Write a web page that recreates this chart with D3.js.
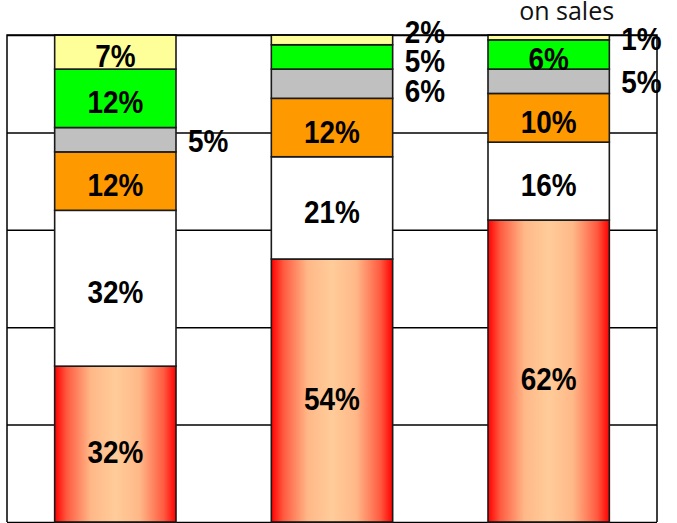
<!DOCTYPE html>
<html>
<head>
<meta charset="utf-8">
<script src="https://cdn.jsdelivr.net/npm/d3@7"></script>
<style>
  html, body { margin: 0; padding: 0; background: #fff; }
  svg { display: block; }
</style>
</head>
<body>
<svg id="chart" width="677" height="523"></svg>
<script>
// Share of each cost component, per column (percent of sales)
const categories = ["c1", "c2", "c3"];
const redShare    = [32, 54, 62];
const whiteShare  = [32, 21, 16];
const orangeShare = [12, 12, 10];
const grayShare   = [5, 6, 5];
const greenShare  = [12, 5, 6];
const yellowShare = [7, 2, 1];
const gridTicks   = [0, 20, 40, 60, 80, 100];
const headerText  = "on sales";

// Which segment labels sit beside the column instead of inside it
const besideBar = [["gray"], ["gray", "green", "yellow"], ["gray", "yellow"]];

const keys = ["red", "white", "orange", "gray", "green", "yellow"];
const series = { red: redShare, white: whiteShare, orange: orangeShare,
                 gray: grayShare, green: greenShare, yellow: yellowShare };
const fills = { red: "url(#redGrad)", white: "#ffffff", orange: "#ff9900",
                gray: "#c0c0c0", green: "#00ff00", yellow: "#ffff99" };

const rows = categories.map((c, i) => {
  const r = { cat: c };
  keys.forEach(k => r[k] = series[k][i]);
  return r;
});

const svg = d3.select("#chart");
const plot = { left: 7, right: 657, top: 35, bottom: 522 };

const x = d3.scaleBand().domain(categories)
  .range([plot.left, plot.right]).paddingInner(0.44).paddingOuter(0.22);
const y = d3.scaleLinear().domain([0, 100]).range([plot.bottom, plot.top]);

// Horizontal shading of the base segment: red edges, peach centre
const defs = svg.append("defs");
const grad = defs.append("linearGradient").attr("id", "redGrad")
  .attr("x1", 0).attr("x2", 1).attr("y1", 0).attr("y2", 0);
[[0, "#ff0000"], [0.1, "#ff5a40"], [0.3, "#ffb888"], [0.5, "#ffcc99"],
 [0.7, "#ffb888"], [0.9, "#ff5a40"], [1, "#ff0000"]]
  .forEach(([o, c]) => grad.append("stop").attr("offset", o).attr("stop-color", c));

// Gridlines
const grid = svg.append("g")
  .attr("transform", `translate(${plot.left},0)`)
  .call(d3.axisLeft(y).tickValues(gridTicks).tickSize(-(plot.right - plot.left)).tickFormat(""));
grid.select(".domain").remove();
grid.selectAll("line").attr("stroke", "#000").attr("stroke-width", 1.5);

// Stacked columns
const stacked = d3.stack().keys(keys)(rows);
const layer = svg.append("g").selectAll("g").data(stacked).join("g")
  .attr("fill", d => fills[d.key]);
layer.selectAll("rect").data(d => d.map(p => Object.assign(p, { key: d.key }))).join("rect")
  .attr("x", d => x(d.data.cat))
  .attr("width", x.bandwidth())
  .attr("y", d => y(d[1]))
  .attr("height", d => y(d[0]) - y(d[1]))
  .attr("stroke", "#1a1a1a")
  .attr("stroke-width", 1.6);

// Plot frame (left, top, right)
svg.append("path")
  .attr("d", `M${plot.left},${plot.bottom}V${plot.top}H${plot.right}V${plot.bottom}`)
  .attr("fill", "none").attr("stroke", "#000").attr("stroke-width", 1.5);

// Labels: bold, slightly condensed
const labelFont = "'Liberation Sans', Arial, sans-serif";
const labels = svg.append("g")
  .attr("font-family", labelFont).attr("font-weight", "bold")
  .attr("font-size", 31).attr("fill", "#000");
const squeeze = 0.9;

function addLabel(px, py, anchor, str) {
  labels.append("text")
    .attr("transform", `translate(${px},${py}) scale(${squeeze},1)`)
    .attr("dy", "0.36em")
    .attr("text-anchor", anchor)
    .text(str);
}

categories.forEach((cat, i) => {
  const inside = [], outside = [];
  stacked.forEach((s, si) => {
    const d = s[i];
    const item = { key: s.key, v: d.data[s.key], yc: (y(d[0]) + y(d[1])) / 2, base: si === 0 };
    if (besideBar[i].includes(s.key)) outside.push(item); else inside.push(item);
  });

  inside.forEach(it => {
    addLabel(x(cat) + x.bandwidth() / 2, it.yc + (it.base ? 8 : 4), "middle", it.v + "%");
  });

  // Spread beside-the-bar labels so they do not overlap
  outside.sort((a, b) => a.yc - b.yc);
  const gap = 29.5;
  for (let n = 0; n < 100; n++) {
    for (let k = 1; k < outside.length; k++) {
      const d = outside[k].yc - outside[k - 1].yc;
      if (d < gap) {
        const push = (gap - d) / 2;
        outside[k - 1].yc -= push;
        outside[k].yc += push;
      }
    }
  }
  outside.forEach(it => {
    addLabel(x(cat) + x.bandwidth() + 12, it.yc + 1, "start", it.v + "%");
  });
});

// Header line fragment above the last column
svg.append("text")
  .attr("x", x("c3") + x.bandwidth() / 2 + 18)
  .attr("y", 20)
  .attr("text-anchor", "middle")
  .attr("font-family", "'Open Sans', sans-serif")
  .attr("font-size", 25).attr("fill", "#111")
  .text(headerText);
</script>
</body>
</html>
